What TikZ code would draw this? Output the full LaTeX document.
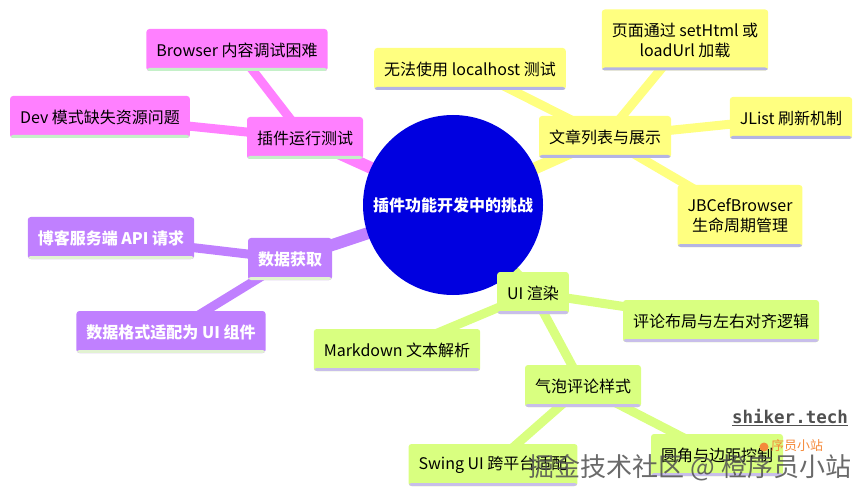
\documentclass[tikz,border=0pt]{standalone}
\usepackage{fontspec}
\setmainfont{Noto Sans CJK SC}
\newfontfamily\wmmono{DejaVu Sans Mono}
\usetikzlibrary{backgrounds}
\definecolor{rootblue}{HTML}{0000E0}
\definecolor{pinkc}{HTML}{FF80FF}
\definecolor{yellowc}{HTML}{FFFF80}
\definecolor{greenc}{HTML}{D9FF80}
\definecolor{purplec}{HTML}{C080FF}
\definecolor{stripegreen}{HTML}{C4F0C8}
\definecolor{stripelav}{HTML}{B4B4E4}
\definecolor{stripelilac}{HTML}{C8BEEA}
\definecolor{stripepale}{HTML}{E2F2D2}
\definecolor{wmgray}{HTML}{505050}
\definecolor{wmorange}{HTML}{F58A3A}
\tikzset{
  x=1pt, y=-1pt,
  mmbox/.style={rectangle, rounded corners=3pt, minimum height=42pt, inner xsep=10pt,
    inner ysep=4pt, align=center, font=\fontsize{16}{20}\selectfont,
    path picture={\fill[#1] ([yshift=-1pt]path picture bounding box.south west) rectangle ([yshift=3pt]path picture bounding box.south east);}},
  pinkbox/.style={mmbox=stripegreen, fill=pinkc, text=black},
  yellowbox/.style={mmbox=stripelav, fill=yellowc, text=black},
  greenbox/.style={mmbox=stripelilac, fill=greenc, text=black},
  purplebox/.style={mmbox=stripepale, fill=purplec, text=white, font=\fontsize{16}{20}\selectfont\bfseries},
  rootnode/.style={circle, fill=rootblue, minimum size=180pt, inner sep=0pt, text=white, font=\fontsize{16}{20}\selectfont\bfseries},
  edgeA/.style={line width=12pt, draw=#1},
  edgeB/.style={line width=9pt, draw=#1},
}
\begin{document}
\begin{tikzpicture}
\useasboundingbox (0,0) rectangle (862,497);
% root
\node[rootnode] (root) at (453,205) {插件功能开发中的挑战};
% pink section
\node[pinkbox] (t1) at (305,138) {插件运行测试};
\node[pinkbox] (t1a) at (237,50) {Browser 内容调试困难};
\node[pinkbox] (t1b) at (100,117) {Dev 模式缺失资源问题};
% purple section
\node[purplebox] (d1) at (290,259) {数据获取};
\node[purplebox] (d1a) at (111,238) {博客服务端 API 请求};
\node[purplebox] (d1b) at (171,332) {数据格式适配为 UI 组件};
% yellow section
\node[yellowbox] (w1) at (605,137) {文章列表与展示};
\node[yellowbox] (w1a) at (470,69) {无法使用 localhost 测试};
\node[yellowbox, minimum height=61pt] (w1b) at (685,40) {页面通过 setHtml 或\\loadUrl 加载};
\node[yellowbox] (w1c) at (791,118) {JList 刷新机制};
\node[yellowbox, minimum height=62pt] (w1d) at (740,216) {JBCefBrowser\\生命周期管理};
% green section
\node[greenbox] (u1) at (533,293) {UI 渲染};
\node[greenbox] (u1a) at (721,321) {评论布局与左右对齐逻辑};
\node[greenbox] (u1b) at (397,350) {Markdown 文本解析};
\node[greenbox] (u1c) at (583,386) {气泡评论样式};
\node[greenbox] (u1c1) at (717,455) {圆角与边距控制};
\node[greenbox] (u1c2) at (493,465) {Swing UI 跨平台适配};
% connectors
\begin{scope}[on background layer]
\draw[edgeA=pinkc] (root.center) -- (t1.center);
\draw[edgeB=pinkc] (t1.center) -- (t1a.center);
\draw[edgeB=pinkc] (t1.center) -- (t1b.center);
\draw[edgeA=purplec] (root.center) -- (d1.center);
\draw[edgeB=purplec] (d1.center) -- (d1a.center);
\draw[edgeB=purplec] (d1.center) -- (d1b.center);
\draw[edgeA=yellowc] (root.center) -- (w1.center);
\draw[edgeB=yellowc] (w1.center) -- (w1a.center);
\draw[edgeB=yellowc] (w1.center) -- (w1b.center);
\draw[edgeB=yellowc] (w1.center) -- (w1c.center);
\draw[edgeB=yellowc] (w1.center) -- (w1d.center);
\draw[edgeA=greenc] (root.center) -- (u1.center);
\draw[edgeB=greenc] (u1.center) -- (u1a.center);
\draw[edgeB=greenc] (u1.center) -- (u1b.center);
\draw[edgeB=greenc] (u1.center) -- (u1c.center);
\draw[edgeB=greenc] (u1c.center) -- (u1c1.center);
\draw[edgeB=greenc] (u1c.center) -- (u1c2.center);
\end{scope}
% watermarks
\node[text=wmgray, font=\wmmono\bfseries\fontsize{17.5}{20}\selectfont, inner sep=0pt] (wm1) at (790,418) {\underline{shiker.tech}};
\node[text=wmgray, opacity=0.85, font=\fontsize{26}{28}\selectfont, inner sep=0pt] (wm3) at (690,468) {掘金技术社区 @ 橙序员小站};
\fill[wmorange] (764,447) circle (4.5pt);
\node[text=wmorange, font=\fontsize{13}{15}\selectfont, anchor=west, inner sep=0pt] (wm2) at (771,446) {序员小站};
\end{tikzpicture}
\end{document}
